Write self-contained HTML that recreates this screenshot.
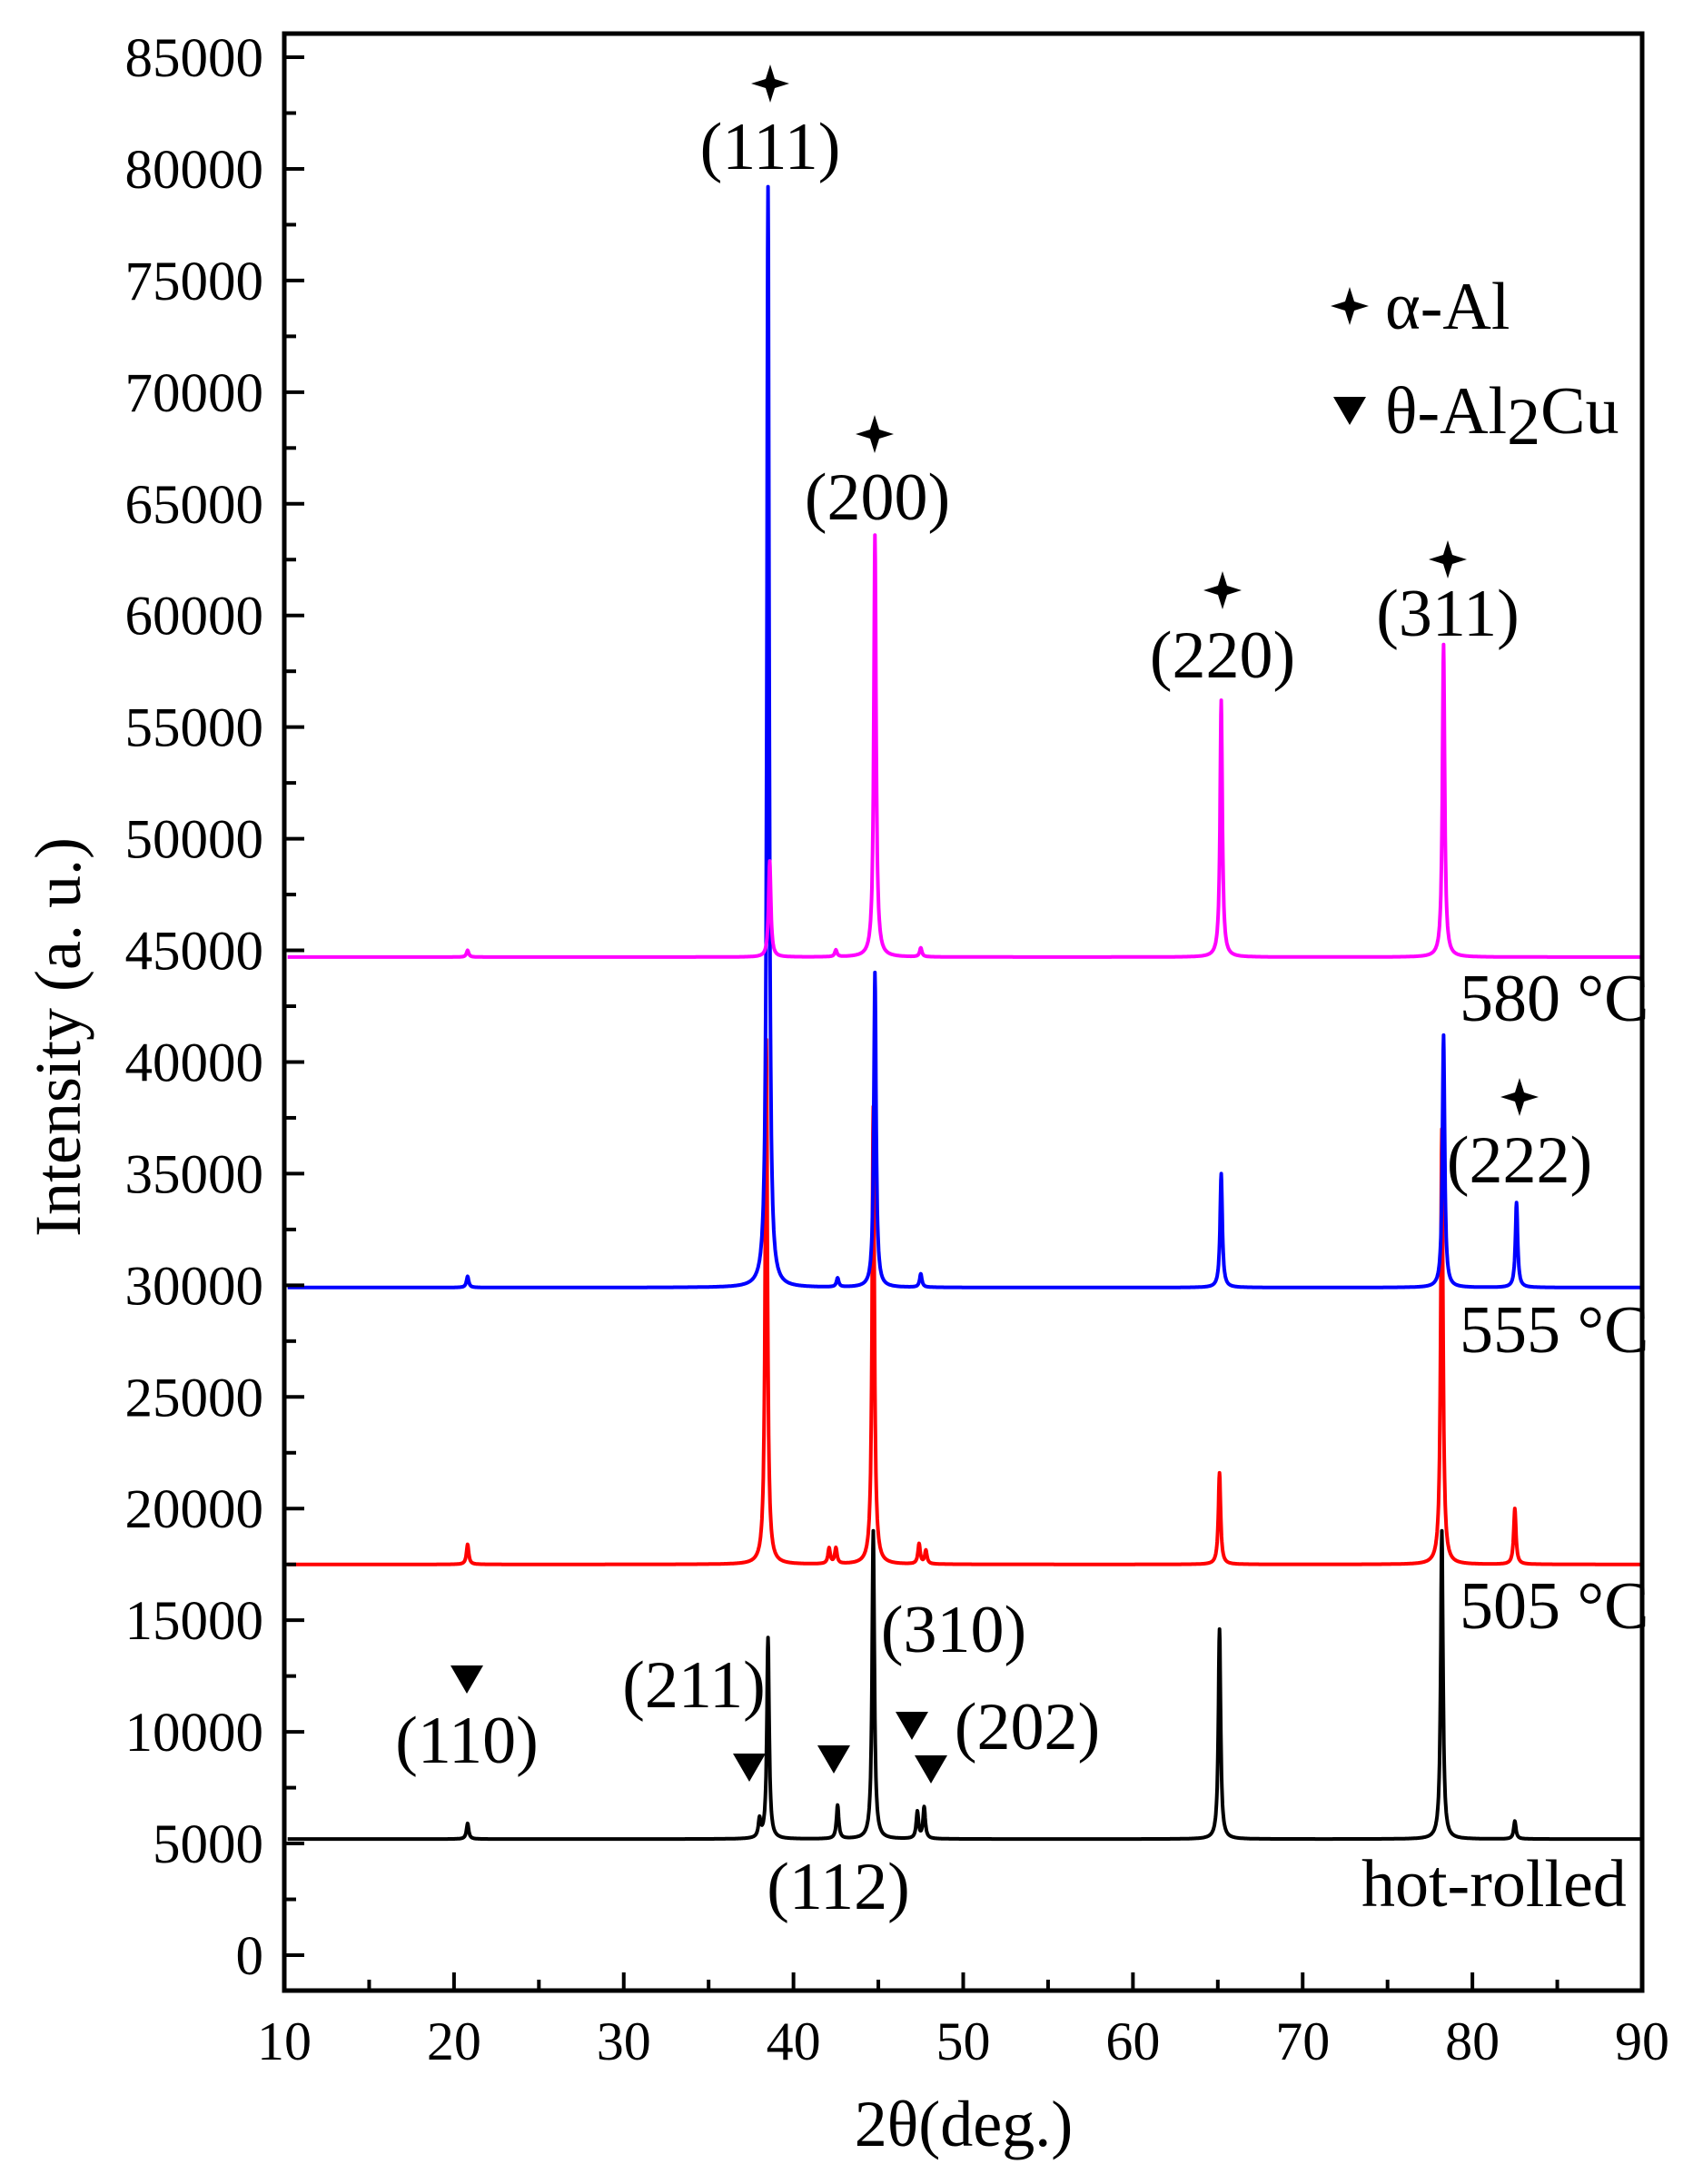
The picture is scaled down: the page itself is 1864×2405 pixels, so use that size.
<!DOCTYPE html>
<html><head><meta charset="utf-8">
<style>
html,body{margin:0;padding:0;background:#fff;}
svg text{font-family:"Liberation Serif",serif;fill:#000;}
</style></head>
<body>
<svg id="chart" width="1864" height="2400" viewBox="0 0 1864 2400" xmlns="http://www.w3.org/2000/svg">
<g id="traces"></g>
<g id="axes"></g>
<g id="annot"></g>
</svg>
<script>
const xTicks = [10,20,30,40,50,60,70,80,90];
const yTicks = [0,5000,10000,15000,20000,25000,30000,35000,40000,45000,50000,55000,60000,65000,70000,75000,80000,85000];
const seriesNames = ["hot-rolled","505 °C","555 °C","580 °C"];
const seriesColors = ["#000000","#ff0000","#0000ff","#ff00ff"];
const baselines = [5200, 17500, 29900, 44700];
const peakPos0 = [20.8, 38.0, 38.5, 42.6, 44.7, 47.3, 47.7, 65.1, 78.2, 82.5];
const peakVal0 = [5900, 6000, 14200, 6700, 19000, 6400, 6600, 14600, 19000, 6000];
const peakPos1 = [20.8, 38.4, 42.1, 42.5, 44.7, 47.4, 47.8, 65.1, 78.2, 82.5];
const peakVal1 = [18400, 41000, 18200, 18200, 38000, 18400, 18100, 21600, 37000, 20000];
const peakPos2 = [20.8, 38.5, 42.6, 44.8, 47.5, 65.2, 78.3, 82.6];
const peakVal2 = [30400, 79200, 30300, 44000, 30500, 35000, 41200, 33700];
const peakPos3 = [20.8, 38.6, 42.5, 44.8, 47.5, 65.2, 78.3];
const peakVal3 = [45000, 49000, 45000, 63600, 45100, 56200, 58700];
const peakPos = [peakPos0, peakPos1, peakPos2, peakPos3];
const peakVal = [peakVal0, peakVal1, peakVal2, peakVal3];

const X0=313, X1=1808, YB=2192, YT=37;
function xs(v){return X0+(v-10)*(X1-X0)/80;}
function ys(v){return 2153 - v*0.024588;}
const NS="http://www.w3.org/2000/svg";
function mk(tag, attrs, parent){const e=document.createElementNS(NS,tag);for(const k in attrs)e.setAttribute(k,attrs[k]);parent.appendChild(e);return e;}
const tr=document.getElementById('traces'), ax=document.getElementById('axes'), an=document.getElementById('annot');

for(let s=0;s<4;s++){
  const base=baselines[s], P=peakPos[s], V=peakVal[s];
  let pts=[];
  for(let t=10.2;t<=90;t+=0.02){
    let val=base;
    for(let i=0;i<P.length;i++){
      const d=(t-P[i])/0.08;
      val+=(V[i]-base)/(1+d*d);
    }
    pts.push(xs(t).toFixed(1)+","+ys(val).toFixed(1));
  }
  const pl=mk('polyline',{points:pts.join(' '),fill:'none',stroke:seriesColors[s],'stroke-width':4,'stroke-linejoin':'round'},tr);
  
  
}

const fr=mk('rect',{x:X0,y:YT,width:X1-X0,height:YB-YT,fill:'none',stroke:'#000','stroke-width':5},ax);


xTicks.forEach((v,i)=>{
  mk('line',{x1:xs(v),x2:xs(v),y1:YB,y2:YB-20,stroke:'#000','stroke-width':4},ax);
  if(i<xTicks.length-1) mk('line',{x1:xs(v+5),x2:xs(v+5),y1:YB,y2:YB-12,stroke:'#000','stroke-width':4},ax);
  const t=mk('text',{x:xs(v),y:2268,'font-size':60,'text-anchor':'middle'},ax);
  t.textContent=v;
  
  
});
yTicks.forEach((v,i)=>{
  mk('line',{x1:X0,x2:X0+22,y1:ys(v),y2:ys(v),stroke:'#000','stroke-width':4},ax);
  if(i<yTicks.length-1) mk('line',{x1:X0,x2:X0+13,y1:ys(v+2500),y2:ys(v+2500),stroke:'#000','stroke-width':4},ax);
  const t=mk('text',{x:290,y:ys(v)+21,'font-size':61,'text-anchor':'end'},ax);
  t.textContent=v;
  
  
});
const yt=mk('text',{x:0,y:0,'font-size':72,'text-anchor':'middle',transform:'translate(88,1142) rotate(-90)'},ax);
yt.textContent='Intensity (a. u.)';


const xt=mk('text',{x:1061,y:2363,'font-size':72,'text-anchor':'middle'},ax);
xt.textContent='2θ(deg.)';



function star(cx,cy,name){
  const r=21,q=5;
  const p=mk('path',{d:`M${cx},${cy-r} L${cx+q},${cy-q} L${cx+r},${cy} L${cx+q},${cy+q} L${cx},${cy+r} L${cx-q},${cy+q} L${cx-r},${cy} L${cx-q},${cy-q} Z`,fill:'#000'},an);
  
  
}
function tri(cx,cy,name){
  const p=mk('path',{d:`M${cx-18},${cy-15} L${cx+18},${cy-15} L${cx},${cy+16} Z`,fill:'#000'},an);
  
  
}
function label(x,y,txt,anchor,name){
  const t=mk('text',{x:x,y:y,'font-size':74,'text-anchor':anchor},an);
  t.textContent=txt;
  
  
  return t;
}
star(848,92,'star-111'); label(848,186,'(111)','middle','label-111');
star(963,478,'star-200'); label(966,572,'(200)','middle','label-200');
star(1346,650,'star-220'); label(1346,746,'(220)','middle','label-220');
star(1594,616,'star-311'); label(1594,700,'(311)','middle','label-311');
star(1673,1208,'star-222'); label(1673,1302,'(222)','middle','label-222');
star(1486,337,'legend-star'); label(1525,362,'α-Al','start','legend-alpha-al');
tri(1486,452,'legend-triangle');
const lt=label(1525,477,'θ-Al','start','legend-theta-al2cu');
const sub=document.createElementNS(NS,'tspan');sub.setAttribute('dy','12');sub.textContent='2';lt.appendChild(sub);
const sub2=document.createElementNS(NS,'tspan');sub2.setAttribute('dy','-12');sub2.textContent='Cu';lt.appendChild(sub2);
label(1607,1124,'580 °C','start','label-580');
label(1607,1489,'555 °C','start','label-555');
label(1607,1793,'505 °C','start','label-505');
label(1499,2099,'hot-rolled','start','label-hot-rolled');
tri(514,1849,'tri-110'); label(514,1941,'(110)','middle','label-110');
label(764,1880,'(211)','middle','label-211');
tri(825,1946,'tri-211');
tri(918,1937,'tri-112');
label(923,2102,'(112)','middle','label-112');
label(1050,1819,'(310)','middle','label-310');
tri(1004,1900,'tri-310');
tri(1025,1948,'tri-202');
label(1131,1926,'(202)','middle','label-202');
</script>
</body></html>
